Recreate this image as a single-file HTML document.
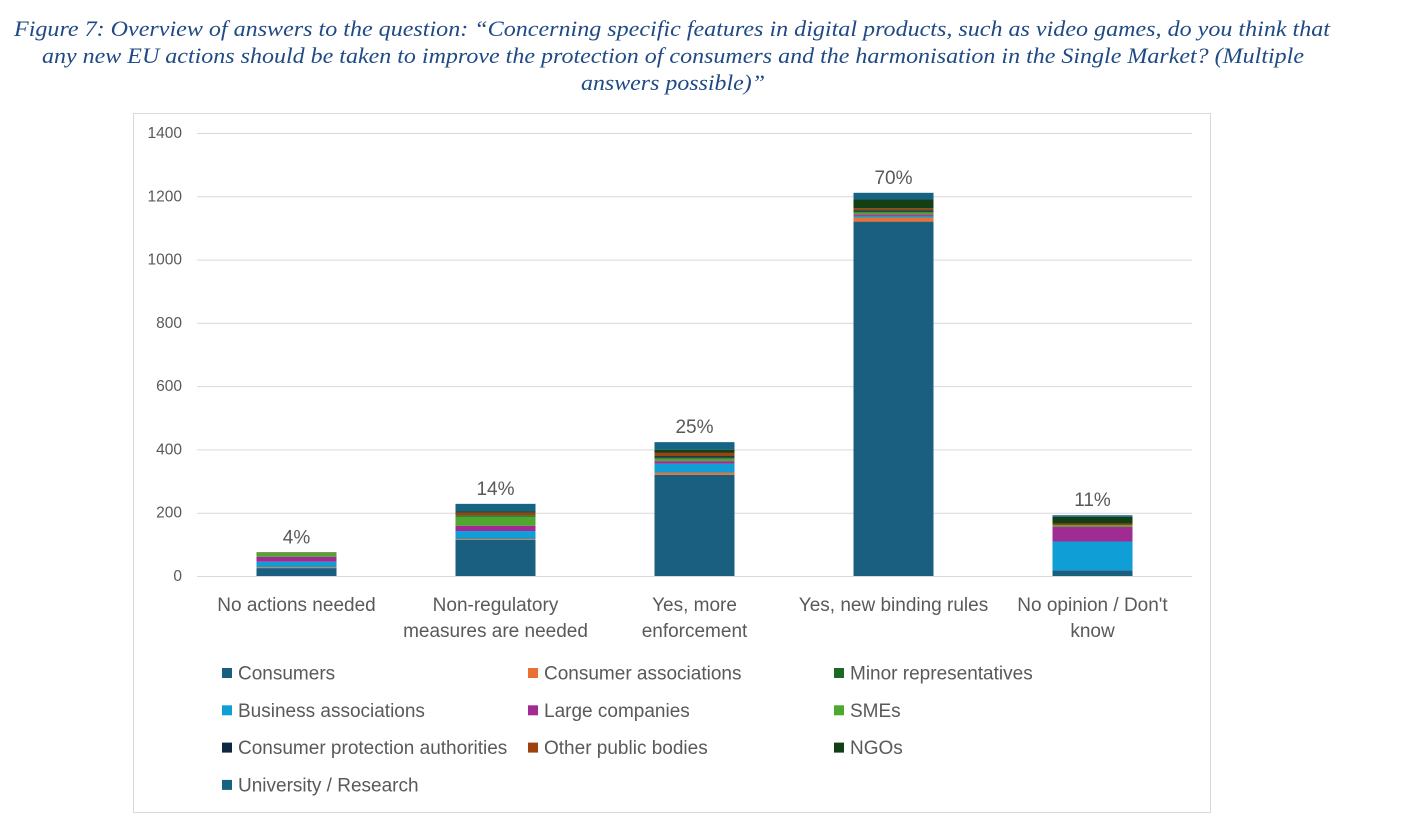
<!DOCTYPE html>
<html><head><meta charset="utf-8"><style>
body{margin:0;background:#fff;width:1406px;height:838px;overflow:hidden}
svg{display:block}
.t{font-family:"Liberation Serif",serif;font-style:italic;font-size:22px;fill:#1F4A85}
.a{font-family:"Liberation Sans",sans-serif;fill:#595959}
</style></head><body>
<svg id="c" width="1406" height="838">
<text class="t" x="14" y="36" textLength="1316" lengthAdjust="spacingAndGlyphs">Figure 7: Overview of answers to the question: “Concerning specific features in digital products, such as video games, do you think that</text>
<text class="t" x="42" y="63" textLength="1262" lengthAdjust="spacingAndGlyphs">any new EU actions should be taken to improve the protection of consumers and the harmonisation in the Single Market? (Multiple</text>
<text class="t" x="581" y="90" textLength="184" lengthAdjust="spacingAndGlyphs">answers possible)”</text>
<rect x="133.5" y="113.5" width="1077" height="699" fill="none" stroke="#d9d9d9"/>
<g id="g"></g>
</svg>
<script>
const categories=[["No actions needed"],["Non-regulatory","measures are needed"],["Yes, more","enforcement"],["Yes, new binding rules"],["No opinion / Don't","know"]];
const percents=["4%","14%","25%","70%","11%"];
const seriesNames=["Consumers","Consumer associations","Minor representatives","Business associations","Large companies","SMEs","Consumer protection authorities","Other public bodies","NGOs","University / Research"];
const seriesColors=["#1B5F80","#E97132","#196B24","#0F9ED5","#A02B93","#4EA72E","#0E2841","#A0410D","#123F16","#166383"];
const consumers=[25,114,320,1120,18];
const consumerAssoc=[3,3,7,13,0];
const minorReps=[0,5,3,3,0];
const businessAssoc=[17,25,28,5,91];
const largeCompanies=[16,17,8,5,47];
const smes=[12,28,8,6,5];
const consProtAuth=[0,0,5,4,0];
const otherPublic=[1,8,10,6,5];
const ngos=[1,5,10,28,21];
const university=[0,23,24,21,5];
const yTicks=[0,200,400,600,800,1000,1200,1400];
const stackOrder=[consumers,consumerAssoc,businessAssoc,largeCompanies,smes,minorReps,consProtAuth,otherPublic,ngos,university];
const stackColorIdx=[0,1,3,4,5,2,6,7,8,9];
const NS="http://www.w3.org/2000/svg";
const g=document.getElementById('g');
const x0=197,x1=1192,yb=576,yt=133,ymax=1400;
const y=v=>yb-(v/ymax)*(yb-yt);
const band=(x1-x0)/categories.length;
const cx=i=>x0+band*(i+0.5);
function mk(t,a){const e=document.createElementNS(NS,t);for(const k in a)e.setAttribute(k,a[k]);g.appendChild(e);return e;}
yTicks.forEach(v=>{
 const l=mk('line',{x1:x0,x2:x1,y1:y(v)+0.5,y2:y(v)+0.5,stroke:'#d9d9d9','stroke-width':1});
 
 
 const t=mk('text',{x:182,y:y(v)+5,'text-anchor':'end','font-size':'15.5',class:'a'});t.textContent=v;
 
 
});
const bw=80;
categories.forEach((c,i)=>{
 let acc=0;
 stackOrder.forEach((arr,s)=>{
  const v=arr[i];if(v<=0)return;
  const r=mk('rect',{x:cx(i)-bw/2,y:y(acc+v),width:bw,height:y(acc)-y(acc+v),fill:seriesColors[stackColorIdx[s]]});
  
  
  acc+=v;
 });
 const p=mk('text',{x:cx(i),y:y(acc)-9,'text-anchor':'middle','font-size':'19',class:'a',fill:'#404040'});p.textContent=percents[i];
 
 
 c.forEach((ln,k)=>{
  const t=mk('text',{x:cx(i),y:611+k*26,'text-anchor':'middle','font-size':'19',class:'a'});t.textContent=ln;
  
  
 });
});
const legOrder=[0,1,2,3,4,5,6,7,8,9];
legOrder.forEach((s,k)=>{
 const col=k%3,row=Math.floor(k/3);
 const lx=[222,528,834][col],ly=673+row*37.3;
 const r=mk('rect',{x:lx,y:ly-5,width:10,height:10,fill:seriesColors[s]});
 
 
 const t=mk('text',{x:lx+16,y:ly+6.5,'font-size':'19',class:'a'});t.textContent=seriesNames[s];
 
 
});
</script>
</body></html>
